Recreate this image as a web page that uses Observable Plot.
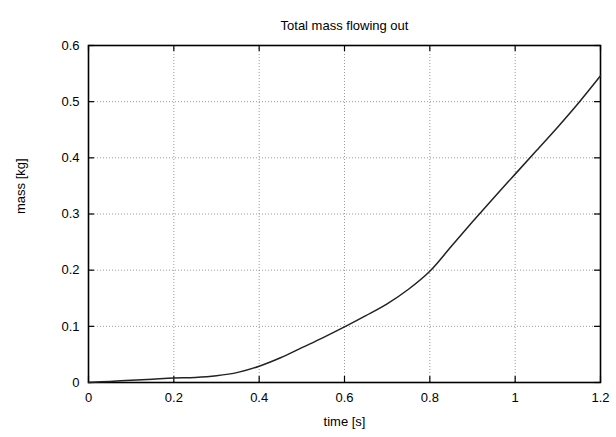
<!DOCTYPE html>
<html>
<head>
<meta charset="utf-8">
<script src="https://cdn.jsdelivr.net/npm/d3@7"></script>
<script src="https://cdn.jsdelivr.net/npm/@observablehq/plot@0.6"></script>
<style>
  html, body { margin: 0; padding: 0; background: #fff; }
</style>
</head>
<body>
<div id="chart"></div>
<script>
const title = "Total mass flowing out";
const xLabel = "time [s]";
const yLabel = "mass [kg]";

const time = [0, 0.05, 0.1, 0.15, 0.2, 0.25, 0.3, 0.35, 0.4, 0.45, 0.5, 0.55, 0.6, 0.65, 0.7, 0.75, 0.8, 0.85, 0.9, 0.95, 1.0, 1.05, 1.1, 1.15, 1.2];
const mass = [0, 0.002, 0.004, 0.006, 0.008, 0.009, 0.012, 0.018, 0.029, 0.044, 0.062, 0.080, 0.099, 0.119, 0.140, 0.166, 0.198, 0.242, 0.286, 0.329, 0.371, 0.413, 0.455, 0.499, 0.546];

const xTicks = [0, 0.2, 0.4, 0.6, 0.8, 1.0, 1.2];
const xTickLabels = ["0", "0.2", "0.4", "0.6", "0.8", "1", "1.2"];
const yTicks = [0, 0.1, 0.2, 0.3, 0.4, 0.5, 0.6];
const yTickLabels = ["0", "0.1", "0.2", "0.3", "0.4", "0.5", "0.6"];

const data = time.map((t, i) => ({time: t, mass: mass[i]}));

const W = 616, H = 437;
const mL = 88, mR = 16, mT = 45, mB = 55;
const fw = W - mL - mR, fh = H - mT - mB;
const tick = 6;
const gridStyle = {stroke: "#9a9a9a", strokeOpacity: 1, strokeWidth: 1, strokeDasharray: "1,2"};

const chart = Plot.plot({
  width: W,
  height: H,
  marginLeft: mL,
  marginRight: mR,
  marginTop: mT,
  marginBottom: mB,
  style: {fontFamily: "'Liberation Sans', Arial, sans-serif", fontSize: "13px", color: "#000", background: "#fff"},
  x: {domain: [0, 1.2]},
  y: {domain: [0, 0.6]},
  marks: [
    Plot.gridX(xTicks.slice(1, -1), gridStyle),
    Plot.gridY(yTicks.slice(1, -1), gridStyle),
    Plot.tickX(xTicks, {x: d => d, insetTop: fh - tick, stroke: "#000", strokeWidth: 1.2}),
    Plot.tickX(xTicks, {x: d => d, insetBottom: fh - tick, stroke: "#000", strokeWidth: 1.2}),
    Plot.tickY(yTicks, {y: d => d, insetRight: fw - tick, stroke: "#000", strokeWidth: 1.2}),
    Plot.tickY(yTicks, {y: d => d, insetLeft: fw - tick, stroke: "#000", strokeWidth: 1.2}),
    Plot.axisX(xTicks, {anchor: "bottom", tickSize: 0, tickPadding: 10, tickFormat: (d, i) => xTickLabels[i], label: null}),
    Plot.axisY(yTicks, {anchor: "left", tickSize: 0, tickPadding: 9, tickFormat: (d, i) => yTickLabels[i], label: null}),
    Plot.frame({stroke: "#000", strokeWidth: 1.6}),
    Plot.line(data, {x: "time", y: "mass", stroke: "#222", strokeWidth: 1.5, curve: "catmull-rom"}),
    Plot.text([title], {frameAnchor: "top", dy: -25, fontSize: 13}),
    Plot.text([xLabel], {frameAnchor: "bottom", dy: 43, fontSize: 13}),
    Plot.text([yLabel], {frameAnchor: "left", dx: -68, rotate: -90, fontSize: 13})
  ]
});
document.getElementById("chart").appendChild(chart);
</script>
</body>
</html>
